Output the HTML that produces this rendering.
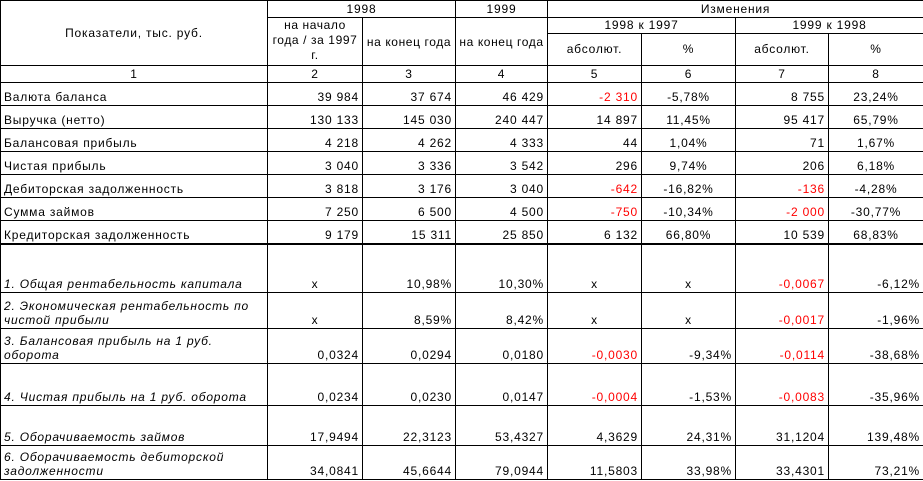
<!DOCTYPE html>
<html><head><meta charset="utf-8"><style>
html,body{margin:0;padding:0;background:#fff;width:923px;height:481px;overflow:hidden}
table{border-collapse:collapse;table-layout:fixed;position:absolute;left:0;top:0;width:923px;font-family:"Liberation Sans",Arial,sans-serif;font-size:12px;letter-spacing:0.8px;color:#000}
td{border:1px solid #000;padding:0 3px 1px 3px;white-space:nowrap;overflow:hidden;vertical-align:bottom;line-height:14px}
td.c{text-align:center;vertical-align:middle}
td.r{text-align:right}
td.cb{text-align:center}
.red{color:#f00}
.i{font-style:italic}
.w{line-height:15px;letter-spacing:0.6px}
tr.thick td{border-bottom:2px solid #000}
</style></head><body>
<table>
<colgroup><col style="width:267px"><col style="width:95px"><col style="width:93px"><col style="width:92px"><col style="width:94px"><col style="width:94px"><col style="width:93px"><col style="width:95px"></colgroup>
<tr style="height:17px"><td class="c" rowspan="3">Показатели, тыс. руб.</td><td class="c" colspan="2">1998</td><td class="c">1999</td><td class="c" colspan="4">Изменения</td></tr>
<tr style="height:16px"><td class="c w" rowspan="2" style="padding:0;vertical-align:top">на начало<br>года / за 1997<br>г.</td><td class="c" rowspan="2" style="padding:0;letter-spacing:0.6px">на конец года</td><td class="c" rowspan="2" style="padding:0;letter-spacing:0.6px">на конец года</td><td class="c" colspan="2">1998 к 1997</td><td class="c" colspan="2">1999 к 1998</td></tr>
<tr style="height:32px"><td class="c">абсолют.</td><td class="c">%</td><td class="c">абсолют.</td><td class="c">%</td></tr>
<tr style="height:17px"><td class="c">1</td><td class="c">2</td><td class="c">3</td><td class="c">4</td><td class="c">5</td><td class="c">6</td><td class="c">7</td><td class="c">8</td></tr>
<tr style="height:23px"><td>Валюта баланса</td><td class="r">39 984</td><td class="r">37 674</td><td class="r">46 429</td><td class="r red">-2 310</td><td class="cb">-5,78%</td><td class="r">8 755</td><td class="cb">23,24%</td></tr>
<tr style="height:23px"><td>Выручка (нетто)</td><td class="r">130 133</td><td class="r">145 030</td><td class="r">240 447</td><td class="r">14 897</td><td class="cb">11,45%</td><td class="r">95 417</td><td class="cb">65,79%</td></tr>
<tr style="height:23px"><td>Балансовая прибыль</td><td class="r">4 218</td><td class="r">4 262</td><td class="r">4 333</td><td class="r">44</td><td class="cb">1,04%</td><td class="r">71</td><td class="cb">1,67%</td></tr>
<tr style="height:23px"><td>Чистая прибыль</td><td class="r">3 040</td><td class="r">3 336</td><td class="r">3 542</td><td class="r">296</td><td class="cb">9,74%</td><td class="r">206</td><td class="cb">6,18%</td></tr>
<tr style="height:23px"><td>Дебиторская задолженность</td><td class="r">3 818</td><td class="r">3 176</td><td class="r">3 040</td><td class="r red">-642</td><td class="cb">-16,82%</td><td class="r red">-136</td><td class="cb">-4,28%</td></tr>
<tr style="height:23px"><td>Сумма займов</td><td class="r">7 250</td><td class="r">6 500</td><td class="r">4 500</td><td class="r red">-750</td><td class="cb">-10,34%</td><td class="r red">-2 000</td><td class="cb">-30,77%</td></tr>
<tr class="thick" style="height:23px"><td>Кредиторская задолженность</td><td class="r">9 179</td><td class="r">15 311</td><td class="r">25 850</td><td class="r">6 132</td><td class="cb">66,80%</td><td class="r">10 539</td><td class="cb">68,83%</td></tr>
<tr style="height:49px"><td class="i">1. Общая рентабельность капитала</td><td class="cb">x</td><td class="r">10,98%</td><td class="r">10,30%</td><td class="cb">x</td><td class="cb">x</td><td class="r red">-0,0067</td><td class="r">-6,12%</td></tr>
<tr style="height:36px"><td class="i">2. Экономическая рентабельность по<br>чистой прибыли</td><td class="cb">x</td><td class="r">8,59%</td><td class="r">8,42%</td><td class="cb">x</td><td class="cb">x</td><td class="r red">-0,0017</td><td class="r">-1,96%</td></tr>
<tr style="height:35px"><td class="i">3. Балансовая прибыль на 1 руб.<br>оборота</td><td class="r">0,0324</td><td class="r">0,0294</td><td class="r">0,0180</td><td class="r red">-0,0030</td><td class="r">-9,34%</td><td class="r red">-0,0114</td><td class="r">-38,68%</td></tr>
<tr style="height:42px"><td class="i">4. Чистая прибыль на 1 руб. оборота</td><td class="r">0,0234</td><td class="r">0,0230</td><td class="r">0,0147</td><td class="r red">-0,0004</td><td class="r">-1,53%</td><td class="r red">-0,0083</td><td class="r">-35,96%</td></tr>
<tr style="height:40px"><td class="i">5. Оборачиваемость займов</td><td class="r">17,9494</td><td class="r">22,3123</td><td class="r">53,4327</td><td class="r">4,3629</td><td class="r">24,31%</td><td class="r">31,1204</td><td class="r">139,48%</td></tr>
<tr style="height:34px"><td class="i">6. Оборачиваемость дебиторской<br>задолженности</td><td class="r">34,0841</td><td class="r">45,6644</td><td class="r">79,0944</td><td class="r">11,5803</td><td class="r">33,98%</td><td class="r">33,4301</td><td class="r">73,21%</td></tr>
</table>
</body></html>
